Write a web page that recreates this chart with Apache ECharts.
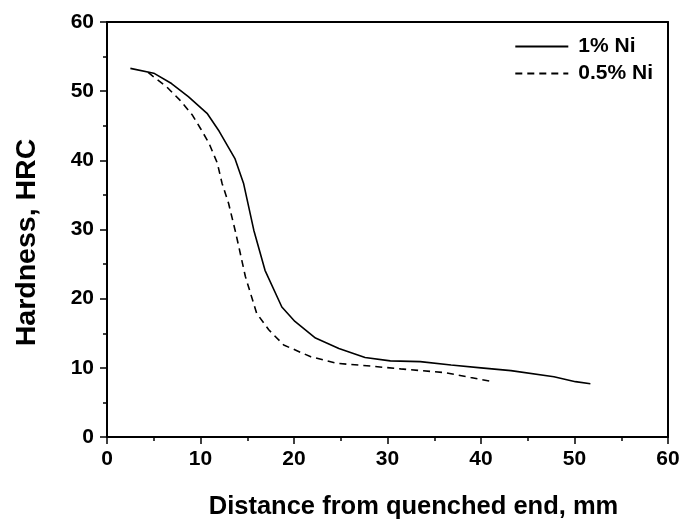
<!DOCTYPE html>
<html>
<head>
<meta charset="UTF-8">
<title>Hardness vs distance</title>
<script src="https://cdn.jsdelivr.net/npm/echarts@6/dist/echarts.min.js"></script>
<style>
  html, body { margin: 0; padding: 0; background: #fff; }
  #main { width: 683px; height: 523px; }
</style>
</head>
<body>
<div id="main"></div>
<script>
// 1% Ni curve: [distance mm, HRC]
var ni1X = [2.5, 5.0, 6.9, 8.7, 10.7, 12.0, 13.7, 14.6, 15.7, 16.9, 18.7, 20.1, 22.3, 24.8, 27.6, 30.3, 33.5, 36.8, 40.0, 43.2, 47.8, 50.1, 51.7];
var ni1Y = [53.3, 52.6, 51.1, 49.2, 46.8, 44.2, 40.2, 36.7, 29.9, 24.1, 18.8, 16.7, 14.3, 12.8, 11.5, 11.0, 10.9, 10.4, 10.0, 9.6, 8.7, 8.0, 7.7];
// 0.5% Ni curve
var ni05X = [4.4, 6.4, 7.8, 9.1, 10.0, 10.9, 11.8, 12.3, 13.0, 13.7, 14.1, 14.8, 16.0, 17.3, 18.9, 21.8, 24.6, 27.8, 31.4, 36.2, 38.9, 40.9];
var ni05Y = [52.7, 50.6, 48.7, 46.6, 44.6, 42.5, 39.6, 36.7, 33.8, 29.9, 27.5, 23.2, 17.9, 15.5, 13.3, 11.6, 10.65, 10.3, 9.85, 9.3, 8.6, 8.1];

var xTicks = [0, 10, 20, 30, 40, 50, 60];
var yTicks = [0, 10, 20, 30, 40, 50, 60];

function pairs(xs, ys) {
  var out = [];
  for (var i = 0; i < xs.length; i++) out.push([xs[i], ys[i]]);
  return out;
}

var font = 'Liberation Sans, Arial, sans-serif';
var chart = echarts.init(document.getElementById('main'));

var option = {
  animation: false,
  grid: { left: 107, right: 15, top: 22, bottom: 86, outerBoundsMode: 'none', containLabel: false },
  legend: {
    right: 25, top: 31, orient: 'vertical', align: 'left', itemGap: 6,
    itemWidth: 53, itemHeight: 14,
    itemStyle: { color: 'rgba(0,0,0,0)', borderWidth: 0, opacity: 0 },
    textStyle: { fontFamily: font, fontWeight: 'bold', fontSize: 21, color: '#000', padding: [0, 0, 0, 5] },
    data: ['1% Ni', '0.5% Ni']
  },
  xAxis: [{
    type: 'value', min: xTicks[0], max: xTicks[xTicks.length - 1], interval: 10,
    name: 'Distance from quenched end, mm', nameLocation: 'middle', nameGap: 57,
    nameTextStyle: { fontFamily: font, fontWeight: 'bold', fontSize: 25.5, color: '#000', padding: [0, 0, 0, 52] },
    axisLine: { lineStyle: { color: '#000', width: 2 } },
    axisTick: { inside: false, length: 7, lineStyle: { color: '#000', width: 1.5 } },
    minorTick: { show: true, splitNumber: 2, length: 4, lineStyle: { color: '#000', width: 1.5 } },
    axisLabel: { fontFamily: font, fontWeight: 'bold', fontSize: 21, color: '#000', margin: 12 },
    splitLine: { show: false }
  }, {
    type: 'value', position: 'top', min: 0, max: 60,
    axisLine: { show: true, onZero: false, lineStyle: { color: '#000', width: 2 } },
    axisTick: { show: false }, axisLabel: { show: false }, splitLine: { show: false }
  }],
  yAxis: [{
    type: 'value', min: yTicks[0], max: yTicks[yTicks.length - 1], interval: 10,
    name: 'Hardness, HRC', nameLocation: 'middle', nameGap: 65,
    nameTextStyle: { fontFamily: font, fontWeight: 'bold', fontSize: 28.5, color: '#000', padding: [0, 26, 0, 0] },
    axisLine: { show: true, lineStyle: { color: '#000', width: 2 } },
    axisTick: { show: true, inside: false, length: 7, lineStyle: { color: '#000', width: 1.5 } },
    minorTick: { show: true, splitNumber: 2, length: 4, lineStyle: { color: '#000', width: 1.5 } },
    axisLabel: { fontFamily: font, fontWeight: 'bold', fontSize: 21, color: '#000', margin: 13 },
    splitLine: { show: false }
  }, {
    type: 'value', position: 'right', min: 0, max: 60,
    axisLine: { show: true, onZero: false, lineStyle: { color: '#000', width: 2 } },
    axisTick: { show: false }, axisLabel: { show: false }, splitLine: { show: false }
  }],
  series: [{
    name: '1% Ni', type: 'line', data: pairs(ni1X, ni1Y),
    symbol: 'none', smooth: false,
    lineStyle: { color: '#000', width: 1.6, type: 'solid' },
    itemStyle: { color: '#000' }
  }, {
    name: '0.5% Ni', type: 'line', data: pairs(ni05X, ni05Y),
    symbol: 'none', smooth: false,
    lineStyle: { color: '#000', width: 1.6, type: [7, 5] },
    itemStyle: { color: '#000' }
  }]
};

chart.setOption(option);
</script>
</body>
</html>
